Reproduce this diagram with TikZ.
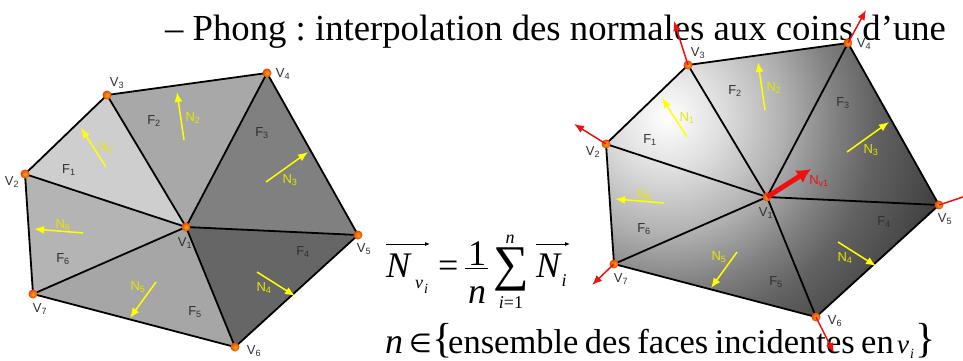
\documentclass[tikz,border=0pt]{standalone}
\usepackage{fontspec}
\setmainfont{Liberation Serif}
\newfontfamily\arial{Liberation Sans}
\newfontfamily\dejavu{DejaVu Sans}
\usetikzlibrary{arrows.meta, backgrounds}
\definecolor{jauneNormale}{HTML}{FFFF00}
\definecolor{jauneTexte}{HTML}{E6E600}
\definecolor{rougeNormale}{HTML}{F01010}
\definecolor{gris1}{HTML}{CECECE}
\definecolor{gris2}{HTML}{A8A8A8}
\definecolor{gris3}{HTML}{808080}
\definecolor{gris4}{HTML}{666666}
\definecolor{gris5}{HTML}{A6A6A6}
\definecolor{gris6}{HTML}{B4B4B4}
\definecolor{grisTexte}{HTML}{303030}
\definecolor{coeurSommet}{HTML}{F8B000}
\definecolor{bordSommet}{HTML}{E84010}
\pgfdeclareradialshading{phong}{\pgfpoint{0bp}{0bp}}{color(0bp)=(white); color(4.3bp)=(rgb,255:red,224;green,224;blue,224); color(9.8bp)=(rgb,255:red,176;green,176;blue,176); color(14.1bp)=(rgb,255:red,128;green,128;blue,128); color(17.4bp)=(rgb,255:red,98;green,98;blue,98); color(22.1bp)=(rgb,255:red,72;green,72;blue,72); color(27.1bp)=(rgb,255:red,40;green,40;blue,40); color(31.4bp)=(rgb,255:red,8;green,8;blue,8); color(50bp)=(black)}
% sommets, aretes, etiquettes et normales d'une maille, #2 peint les faces
\newcommand{\maille}[2]{
    \node[som] (#1v1) at (186,227) {}; \node[som] (#1v2) at (25,174) {};
    \node[som] (#1v3) at (107,95) {}; \node[som] (#1v4) at (267,73) {};
    \node[som] (#1v5) at (358,235) {}; \node[som] (#1v6) at (235,347) {};
    \node[som] (#1v7) at (33,294) {};
    \begin{pgfonlayer}{background}
        #2
        \draw[ar] (#1v2.center) -- (#1v3.center) -- (#1v4.center) -- (#1v5.center) -- (#1v6.center) -- (#1v7.center) -- cycle;
        \draw[ar] (#1v1.center) -- (#1v2.center); \draw[ar] (#1v1.center) -- (#1v3.center);
        \draw[ar] (#1v1.center) -- (#1v4.center); \draw[ar] (#1v1.center) -- (#1v5.center);
        \draw[ar] (#1v1.center) -- (#1v6.center); \draw[ar] (#1v1.center) -- (#1v7.center);
    \end{pgfonlayer}
    \node[et] (#1lv1) at (185,243) {V\textsubscript{1}}; \node[et] (#1lv2) at (12,182) {V\textsubscript{2}};
    \node[et] (#1lv3) at (117,83) {V\textsubscript{3}}; \node[et] (#1lv4) at (283,74) {V\textsubscript{4}};
    \node[et] (#1lv5) at (364,249) {V\textsubscript{5}}; \node[et] (#1lv6) at (254,351) {V\textsubscript{6}};
    \node[et] (#1lv7) at (40,309) {V\textsubscript{7}};
    \node[et] (#1f1) at (69,170) {F\textsubscript{1}}; \node[et] (#1f2) at (154,121) {F\textsubscript{2}};
    \node[et] (#1f3) at (262,133) {F\textsubscript{3}}; \node[et] (#1f4) at (303,252) {F\textsubscript{4}};
    \node[et] (#1f5) at (195,312) {F\textsubscript{5}}; \node[et] (#1f6) at (63,259) {F\textsubscript{6}};
    \coordinate (#1a1) at (106,167); \coordinate (#1b1) at (81,128); \draw[nf] (#1a1) -- (#1b1);
    \coordinate (#1a2) at (184,140); \coordinate (#1b2) at (177,92); \draw[nf] (#1a2) -- (#1b2);
    \coordinate (#1a3) at (266,182); \coordinate (#1b3) at (308,152); \draw[nf] (#1a3) -- (#1b3);
    \coordinate (#1a4) at (257,272); \coordinate (#1b4) at (295,296); \draw[nf] (#1a4) -- (#1b4);
    \coordinate (#1a5) at (156,282); \coordinate (#1b5) at (130,318); \draw[nf] (#1a5) -- (#1b5);
    \coordinate (#1a6) at (83,233); \coordinate (#1b6) at (34,229); \draw[nf] (#1a6) -- (#1b6);
    \node[etn] (#1n1) at (106,148) {N\textsubscript{1}}; \node[etn] (#1n2) at (193,118) {N\textsubscript{2}};
    \node[etn] (#1n3) at (290,180) {N\textsubscript{3}}; \node[etn] (#1n4) at (264,288) {N\textsubscript{4}};
    \node[etn] (#1n5) at (138,287) {N\textsubscript{5}}; \node[etn] (#1n6) at (63,225) {N\textsubscript{6}};
}
\begin{document}
\frenchspacing
\begin{tikzpicture}[x=1pt, y=-1pt, >=Latex, font=\fontsize{13}{15}\selectfont,
        som/.style={circle, minimum size=9pt, inner sep=0, inner color=coeurSommet, outer color=bordSommet},
        ar/.style={black, line width=1.8pt, line join=round},
        et/.style={inner sep=0, text=grisTexte, font=\arial\fontsize{13}{15}\selectfont},
        etn/.style={et, text=jauneTexte},
        nf/.style={-{Latex[length=10pt, width=8pt]}, jauneNormale, line width=1.5pt},
        nv/.style={-{Latex[length=10pt, width=8pt]}, rougeNormale, line width=1.5pt},
        nc/.style={-{Latex[length=14pt, width=15pt]}, rougeNormale, line width=5pt},
        vec/.style={-{Latex[length=5pt, width=4pt]}, black, line width=0.8pt},
        ligne/.style={inner sep=0, anchor=base west, font=\fontsize{36}{40}\selectfont},
        indice/.style={inner sep=0, anchor=base, font=\fontsize{18}{20}\selectfont},
        indice2/.style={inner sep=0, anchor=base, font=\fontsize{14}{16}\selectfont}]
    \useasboundingbox (0,0) rectangle (963,361);
    \begin{pgfonlayer}{background}
        \node[ligne, font=\fontsize{36.7}{40}\selectfont] (titre) at (165,41) {– Phong : interpolation des normales aux coins d’une};
        \fill[white] (575,40) rectangle (963,60);
    \end{pgfonlayer}
    % formule, morceau par morceau
    \node[ligne] (fnv) at (386,277) {\itshape N};
    \node[indice] (fv) at (419,288) {\itshape v};
    \node[indice2] (fvi) at (426,293) {\itshape i};
    \node[ligne] (fegal) at (438,277) {=};
    \node[ligne, anchor=base] (fun) at (477,265) {1};
    \coordinate (fb1) at (465,268); \coordinate (fb2) at (488,268); \draw[black, line width=1pt] (fb1) -- (fb2);
    \node[ligne, anchor=base] (fn) at (477,303) {\itshape n};
    \node[ligne, anchor=center, font=\fontsize{50}{52}\selectfont] (fsomme) at (511,269) {∑};
    \node[indice] (fhaut) at (510,243) {\itshape n};
    \node[indice] (fbas) at (511,308) {\itshape i\upshape =1};
    \node[ligne] (fni) at (536,277) {\itshape N};
    \node[indice] (fii) at (564,286) {\itshape i};
    \coordinate (fa1) at (386,244); \coordinate (fa2) at (430,244); \draw[vec] (fa1) -- (fa2);
    \coordinate (fa3) at (536,244); \coordinate (fa4) at (570,244); \draw[vec] (fa3) -- (fa4);
    % seconde ligne
    \node[ligne] (en) at (385,353) {\itshape n};
    \node[ligne, font=\dejavu\fontsize{26}{28}\selectfont] (eappart) at (409,352) {∈};
    \node[ligne, anchor=center, font=\fontsize{42}{44}\selectfont] (eg) at (443,341) {\{};
    \node[ligne, font=\fontsize{34.5}{38}\selectfont] (etexte) at (448,353) {\spaceskip=6.5pt\relax ensemble des faces incidentes en};
    \node[ligne, font=\fontsize{27}{30}\selectfont] (ev) at (897,353) {\itshape v};
    \node[indice2] (ei) at (912,358) {\itshape i};
    \node[ligne, anchor=center, font=\fontsize{42}{44}\selectfont] (ed) at (926,341) {\}};
    % maille a gauche, faces a plat
    \maille{g}{
        \fill[gris1] (gv1.center) -- (gv2.center) -- (gv3.center) -- cycle;
        \fill[gris2] (gv1.center) -- (gv3.center) -- (gv4.center) -- cycle;
        \fill[gris3] (gv1.center) -- (gv4.center) -- (gv5.center) -- cycle;
        \fill[gris4] (gv1.center) -- (gv5.center) -- (gv6.center) -- cycle;
        \fill[gris5] (gv1.center) -- (gv6.center) -- (gv7.center) -- cycle;
        \fill[gris6] (gv1.center) -- (gv7.center) -- (gv2.center) -- cycle;
    }
    % maille a droite, meme dessin avec le degrade
    \begin{scope}[shift={(581,-30)}]
        \maille{d}{
            \begin{scope}
                \clip (dv2.center) -- (dv3.center) -- (dv4.center) -- (dv5.center) -- (dv6.center) -- (dv7.center) -- cycle;
                \shade[shading=phong] (86,147) circle (300pt);
            \end{scope}
        }
        \coordinate (c2) at (-7,154); \coordinate (c3) at (93,51); \coordinate (c4) at (285,40);
        \coordinate (c5) at (394,223); \coordinate (c6) at (253,383); \coordinate (c7) at (11,315);
        \coordinate (c1) at (230,199);
        \draw[nv] (dv2.center) -- (c2); \draw[nv] (dv3.center) -- (c3); \draw[nv] (dv4.center) -- (c4);
        \draw[nv] (dv5.center) -- (c5); \draw[nv] (dv6.center) -- (c6); \draw[nv] (dv7.center) -- (c7);
        \draw[nc] (dv1.center) -- (c1);
        \node[et, text=rougeNormale] (nv1) at (238,211) {N\textsubscript{v1}};
    \end{scope}
\end{tikzpicture}
\end{document}
